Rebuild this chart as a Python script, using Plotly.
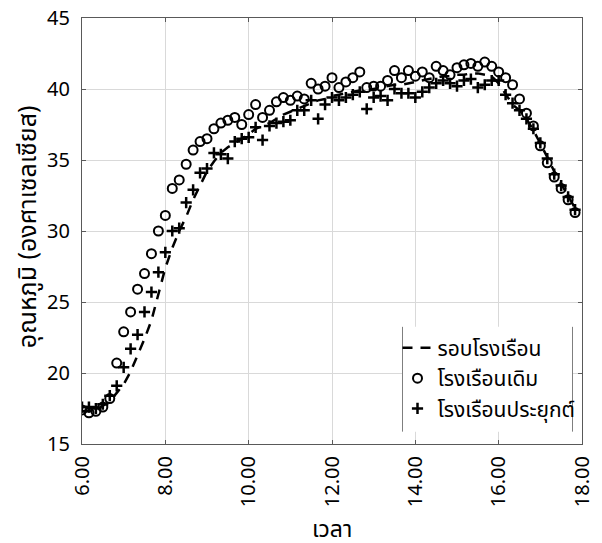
import plotly.graph_objects as go

# time in hours (10-minute steps 6:00 .. 17:50)
times = [6 + i / 6 for i in range(72)]

outside = [17.3, 17.3, 17.4, 17.7, 18.0, 18.6, 19.2, 20.1, 21.2, 22.4, 23.7, 25.6,
           27.4, 28.8, 30.0, 31.0, 32.2, 33.2, 34.2, 34.9, 35.5, 35.9, 36.2, 36.5,
           36.8, 37.2, 37.4, 37.6, 37.9, 38.2, 38.4, 38.6, 38.8, 39.0, 39.2, 39.3,
           39.5, 39.6, 39.7, 39.8, 39.9, 39.9, 40.0, 40.1, 40.2, 40.3, 40.3, 40.4,
           40.5, 40.6, 40.7, 40.8, 40.9, 40.9, 41.0, 41.0, 41.1, 41.1, 41.0, 40.9,
           40.4, 39.6, 38.9, 38.5, 37.9, 37.1, 36.2, 35.2, 34.2, 33.3, 32.5, 31.6]

old_house = [17.4, 17.2, 17.3, 17.6, 18.2, 20.7, 22.9, 24.3, 25.9, 27.0, 28.4, 30.0,
             31.1, 33.0, 33.6, 34.7, 35.7, 36.3, 36.5, 37.2, 37.6, 37.8, 38.0, 37.5,
             38.2, 38.9, 38.0, 38.5, 39.1, 39.4, 39.2, 39.5, 39.3, 40.4, 40.0, 40.2,
             40.8, 40.1, 40.5, 40.8, 41.2, 40.1, 40.2, 40.2, 40.6, 41.3, 40.8, 41.3,
             40.9, 41.2, 40.8, 41.6, 41.3, 41.0, 41.5, 41.7, 41.8, 41.6, 41.9, 41.6,
             41.2, 40.8, 40.3, 39.3, 38.3, 37.4, 36.0, 34.8, 33.8, 33.0, 32.2, 31.3]

applied_house = [17.6, 17.6, 17.5, 17.8, 18.4, 19.1, 20.4, 21.7, 22.7, 24.3, 25.7, 27.1,
                 28.5, 30.0, 30.2, 32.0, 32.9, 34.1, 34.4, 35.5, 35.4, 35.1, 36.3, 36.5,
                 36.6, 37.3, 36.4, 37.4, 37.6, 37.7, 37.8, 38.5, 38.5, 39.2, 37.9, 38.9,
                 39.4, 39.2, 39.4, 39.6, 39.8, 38.6, 39.4, 39.5, 39.2, 40.0, 39.7, 39.7,
                 39.4, 39.8, 40.1, 40.4, 40.6, 40.4, 40.2, 40.6, 40.7, 40.1, 40.3, 40.6,
                 40.6, 39.6, 39.0, 38.5, 37.9, 37.2, 36.2, 35.1, 34.0, 33.2, 32.4, 31.5]

names = ["รอบโรงเรือน", "โรงเรือนเดิม", "โรงเรือนประยุกต์"]
x_title = "เวลา"
y_title = "อุณหภูมิ (องศาเซลเซียส)"
x_ticks = [6, 8, 10, 12, 14, 16, 18]
x_ticklabels = ["6.00", "8.00", "10.00", "12.00", "14.00", "16.00", "18.00"]
y_ticks = [15, 20, 25, 30, 35, 40, 45]

FONT = "Tahoma, 'Noto Sans Thai', 'Leelawadee UI', 'Noto Sans', 'DejaVu Sans', sans-serif"

fig = go.Figure()
fig.add_trace(go.Scatter(x=times, y=outside, mode="lines", name=names[0],
                         line=dict(color="black", width=2.5, dash="10px,8px")))
fig.add_trace(go.Scatter(x=times, y=old_house, mode="markers", name=names[1],
                         marker=dict(symbol="circle-open", size=9, color="black",
                                     line=dict(width=2, color="black"))))
fig.add_trace(go.Scatter(x=times, y=applied_house, mode="markers", name=names[2],
                         marker=dict(symbol="cross-thin-open", size=8, color="black",
                                     line=dict(width=2.5, color="black"))))

axis_common = dict(showline=True, linecolor="#595959", linewidth=1, mirror="ticks",
                   ticks="inside", ticklen=4, tickcolor="#595959", automargin=False,
                   showgrid=True, gridcolor="#d9d9d9", gridwidth=1, zeroline=False,
                   ticklabeloverflow="allow",
                   tickfont=dict(size=20, color="black", family=FONT))

LX0, LX1, LY0, LY1 = 0.641, 0.981, 0.029, 0.275

fig.update_layout(
    width=594, height=535,
    margin=dict(l=74, r=20, t=10, b=99),
    paper_bgcolor="white", plot_bgcolor="white",
    font=dict(family=FONT, color="black", size=20),
    xaxis=dict(range=[6, 18], tickvals=x_ticks, ticktext=x_ticklabels, tickangle=-90,
               ticklabelstandoff=3, **axis_common),
    yaxis=dict(range=[15, 45], tickvals=y_ticks, ticklabelstandoff=7, **axis_common),
    showlegend=True,
    legend=dict(x=0.631, y=0.273, xanchor="left", yanchor="top",
                bgcolor="rgba(0,0,0,0)", borderwidth=0, font=dict(size=21),
                itemwidth=30),
    annotations=[
        dict(text=x_title, xref="paper", yref="paper", x=0.5, y=-0.203,
             xanchor="center", yanchor="middle", showarrow=False, font=dict(size=23)),
        dict(text=y_title, xref="paper", yref="paper", x=-0.108, y=0.509,
             xanchor="center", yanchor="middle", textangle=-90, showarrow=False,
             font=dict(size=25)),
    ],
    shapes=[
        dict(type="rect", xref="paper", yref="paper", x0=LX0, x1=LX1, y0=LY0, y1=LY1,
             fillcolor="white", line=dict(width=0), layer="above"),
        dict(type="line", xref="paper", yref="paper", x0=LX0, x1=LX0, y0=LY0, y1=LY1,
             line=dict(color="#7f7f7f", width=1), layer="above"),
        dict(type="line", xref="paper", yref="paper", x0=LX1, x1=LX1, y0=LY0, y1=LY1,
             line=dict(color="#7f7f7f", width=1), layer="above"),
    ],
)

fig.write_html("out.html")
